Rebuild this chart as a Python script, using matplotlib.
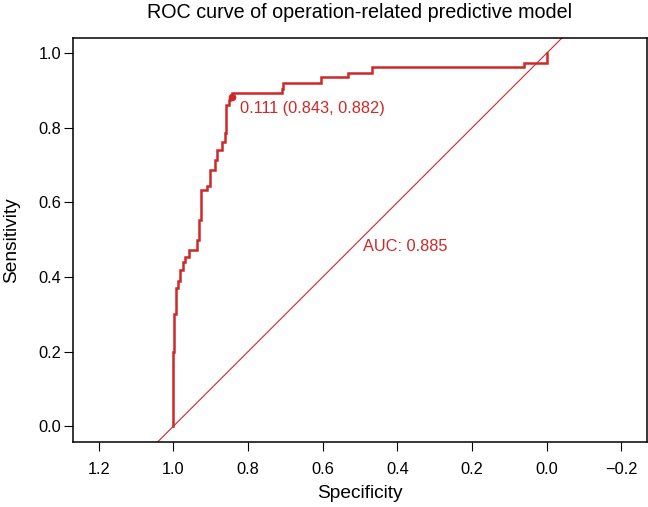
import matplotlib
matplotlib.use("Agg")
import matplotlib.pyplot as plt

# ROC curve steps (specificity, sensitivity)
specificity = [1.000, 1.000, 0.997, 0.997, 0.993, 0.993, 0.988, 0.988, 0.982, 0.982,
               0.975, 0.975, 0.968, 0.968, 0.958, 0.958, 0.937, 0.937, 0.931, 0.931,
               0.925, 0.925, 0.910, 0.910, 0.901, 0.901, 0.888, 0.888, 0.882, 0.882,
               0.869, 0.869, 0.861, 0.861, 0.858, 0.858, 0.851, 0.851, 0.847, 0.847,
               0.843, 0.843, 0.708, 0.708, 0.705, 0.705, 0.605, 0.605, 0.533, 0.533,
               0.468, 0.468, 0.062, 0.062, 0.000, 0.000]
sensitivity = [0.000, 0.200, 0.200, 0.300, 0.300, 0.370, 0.370, 0.390, 0.390, 0.420,
               0.420, 0.440, 0.440, 0.455, 0.455, 0.472, 0.472, 0.500, 0.500, 0.553,
               0.553, 0.634, 0.634, 0.645, 0.645, 0.687, 0.687, 0.714, 0.714, 0.741,
               0.741, 0.763, 0.763, 0.786, 0.786, 0.861, 0.861, 0.875, 0.875, 0.882,
               0.882, 0.893, 0.893, 0.905, 0.905, 0.921, 0.921, 0.936, 0.936, 0.948,
               0.948, 0.962, 0.962, 0.975, 0.975, 1.000]

best_threshold = 0.111
best_spec = 0.843
best_sens = 0.882
auc_value = 0.885

x_ticks = [1.2, 1.0, 0.8, 0.6, 0.4, 0.2, 0.0, -0.2]
y_ticks = [0.0, 0.2, 0.4, 0.6, 0.8, 1.0]

title = "ROC curve of operation-related predictive model"
x_label = "Specificity"
y_label = "Sensitivity"

RED = "#CF2828"
plt.rcParams['font.family'] = ['Liberation Sans', 'DejaVu Sans']

fig = plt.figure(figsize=(6.48, 5.07), dpi=100)
ax = fig.add_axes([73.3 / 648, (507 - 442.3) / 507, (646.7 - 73.3) / 648, (442.3 - 38.3) / 507])

ax.set_xlim(1.268, -0.268)
ax.set_ylim(-0.043, 1.04)

# diagonal reference line
ax.axline((1, 0), (0, 1), color=RED, linewidth=0.8)
# ROC curve
ax.plot(specificity, sensitivity, color=RED, linewidth=1.8, solid_joinstyle='miter')
ax.plot([best_spec], [best_sens], 'o', color=RED, markersize=4.5)
ax.text(best_spec - 0.022, best_sens - 0.03,
        f"{best_threshold:.3f} ({best_spec:.3f}, {best_sens:.3f})",
        color=RED, fontsize=11.8, ha='left', va='center')
ax.text(0.493, 0.481, f"AUC: {auc_value:.3f}", color=RED, fontsize=11.8,
        ha='left', va='center')

ax.set_xticks(x_ticks)
ax.set_xticklabels([f"{v:.1f}".replace('-', '\u2212') for v in x_ticks])
ax.set_yticks(y_ticks)
ax.set_yticklabels([f"{v:.1f}" for v in y_ticks])
ax.tick_params(direction='out', length=6.2, width=0.8, labelsize=11.8, colors='black')
ax.tick_params(axis='y', pad=2.5)
ax.tick_params(axis='x', pad=8)
for s in ax.spines.values():
    s.set_linewidth(1.1)

ax.set_xlabel(x_label, fontsize=13.8, va='center')
ax.xaxis.set_label_coords(0.5, (442.3 - 493) / 404)
ax.set_ylabel(y_label, fontsize=13.8, va='center')
ax.yaxis.set_label_coords((12 - 73.3) / 573.4, 0.5)
ax.set_title(title, fontsize=14.2, y=(442.3 - 12) / 404, va='center', pad=0)

fig.savefig("out.png", dpi=100)
